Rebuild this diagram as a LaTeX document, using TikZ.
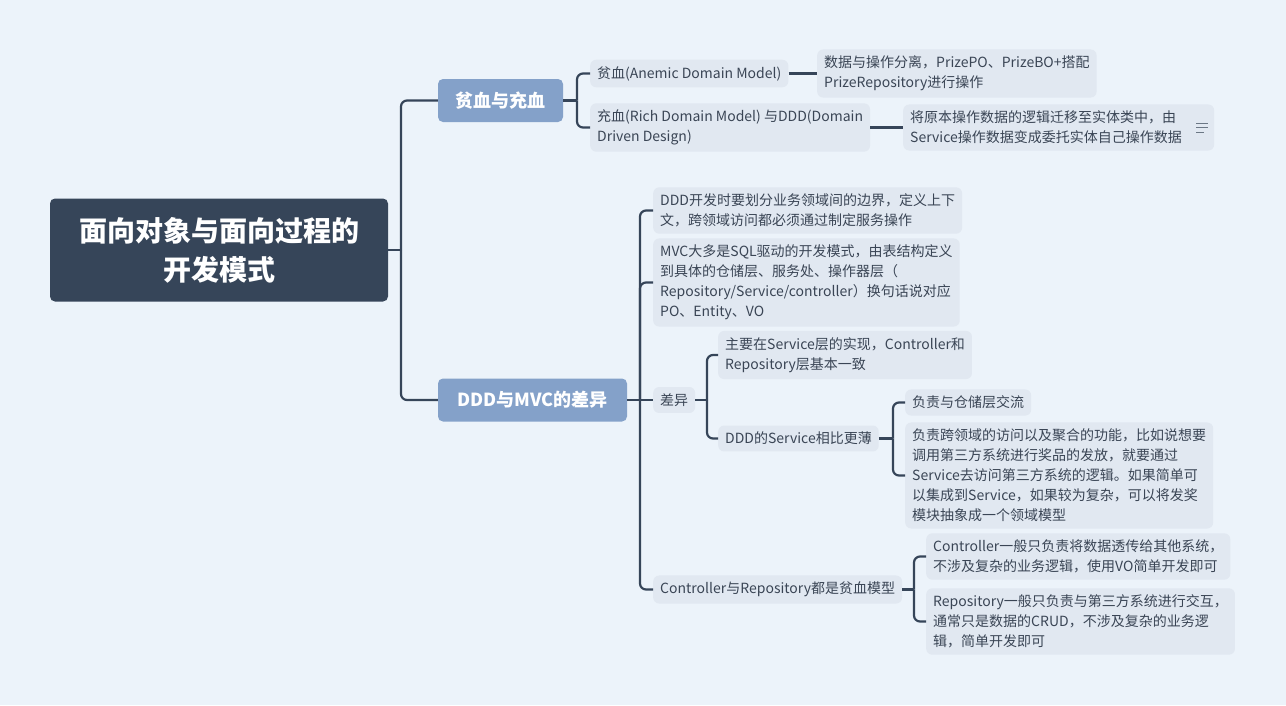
\documentclass[tikz,border=0pt]{standalone}
\usepackage{fontspec}
\setmainfont{Noto Sans CJK SC}
\definecolor{bgcol}{HTML}{ECF3FA}
\definecolor{rootcol}{HTML}{364559}
\definecolor{topcol}{HTML}{84A1C9}
\definecolor{leafcol}{HTML}{E1E8F1}
\definecolor{inkcol}{HTML}{3A4555}
\definecolor{iconcol}{HTML}{6B7785}

\begin{document}
\begin{tikzpicture}[x=1pt, y=-1pt,
  rootbox/.style={fill=rootcol, rounded corners=5pt, text=white, align=center,
    font=\fontsize{28}{39}\selectfont\bfseries, minimum width=338pt, minimum height=103pt},
  topicbox/.style={fill=topcol, rounded corners=5pt, text=white,
    font=\fontsize{18}{20}\selectfont\bfseries, minimum height=43pt},
  leaf/.style={fill=leafcol, rounded corners=6pt, text=inkcol, align=left, anchor=west,
    font=\fontsize{14}{20}\selectfont, inner xsep=7pt, inner ysep=6.5pt},
  link/.style={draw=rootcol, line width=2.2pt, rounded corners=6pt}]
 \fill [bgcol] (0,0) rectangle (1286,705);
 \useasboundingbox (0,0) rectangle (1286,705);

 % root and main topics
 \node [rootbox] (root) at (219,250) {面向对象与面向过程的\\开发模式};
 \node [topicbox, minimum width=125pt] (anemia) at (500.5,100.5) {贫血与充血};
 \node [topicbox, minimum width=189pt] (diff) at (532.5,400) {DDD与MVC的差异};

 % first branch
 \begin {scope}
  \node [leaf] (anemic) at (590,73.5) {贫血(Anemic Domain Model)};
  \node [leaf] (rich) at (590,127.5) {充血(Rich Domain Model) 与DDD(Domain\\Driven Design)};
  \node [leaf] (anemicnote) at (817,73.5) {数据与操作分离，PrizePO、PrizeBO+搭配\\PrizeRepository进行操作};
  \node [leaf, text width=297pt] (richnote) at (903,127.5) {将原本操作数据的逻辑迁移至实体类中，由\\Service操作数据变成委托实体自己操作数据};
  \draw [iconcol, line width=1pt] ([xshift=-18pt,yshift=4.5pt]richnote.east) -- ++(12,0)
    ([xshift=-18pt]richnote.east) -- ++(12,0)
    ([xshift=-18pt,yshift=-4.5pt]richnote.east) -- ++(8,0);
 \end {scope}

 % second branch
 \begin {scope}
  \node [leaf] (bounds) at (653,210.5) {DDD开发时要划分业务领域间的边界，定义上下\\文，跨领域访问都必须通过制定服务操作};
  \node [leaf] (mvc) at (653,282.5) {MVC大多是SQL驱动的开发模式，由表结构定义\\到具体的仓储层、服务处、操作器层（\\Repository/Service/controller）换句话说对应\\PO、Entity、VO};
  \node [leaf] (gap) at (653,400) {差异};
  \node [leaf] (svclayer) at (718,355) {主要在Service层的实现，Controller和\\Repository层基本一致};
  \node [leaf] (thin) at (718,438.5) {DDD的Service相比更薄};
  \node [leaf] (repo) at (905,402.5) {负责与仓储层交流};
  \node [leaf] (cross) at (905,475.5) {负责跨领域的访问以及聚合的功能，比如说想要\\调用第三方系统进行奖品的发放，就要通过\\Service去访问第三方系统的逻辑。如果简单可\\以集成到Service，如果较为复杂，可以将发奖\\模块抽象成一个领域模型};
  \node [leaf] (both) at (653,589.5) {Controller与Repository都是贫血模型};
  \node [leaf] (ctrl) at (926,556.5) {Controller一般只负责将数据透传给其他系统，\\不涉及复杂的业务逻辑，使用VO简单开发即可};
  \node [leaf] (store) at (926,621.5) {Repository一般只负责与第三方系统进行交互，\\通常只是数据的CRUD，不涉及复杂的业务逻\\辑，简单开发即可};
 \end {scope}

 % connectors
 \coordinate (j0) at (401,250);
 \coordinate (j1) at (577,100.5);
 \coordinate (j2) at (640,400);
 \coordinate (j3) at (707,400);
 \coordinate (j4) at (893,438.5);
 \coordinate (j5) at (914,589.5);
 \draw [link] (root.east) -- (j0);
 \draw [link] (j0) |- (anemia.west);
 \draw [link] (j0) |- (diff.west);
 \draw [link] (anemia.east) -- (j1);
 \draw [link] (j1) |- (anemic.west);
 \draw [link] (j1) |- (rich.west);
 \draw [link] (anemic.east) -- (anemicnote.west);
 \draw [link] (rich.east) -- (richnote.west);
 \draw [link] (diff.east) -- (j2);
 \draw [link] (j2) |- (bounds.west);
 \draw [link] (j2) |- (mvc.west);
 \draw [link] (j2) -- (gap.west);
 \draw [link] (j2) |- (both.west);
 \draw [link] (gap.east) -- (j3);
 \draw [link] (j3) |- (svclayer.west);
 \draw [link] (j3) |- (thin.west);
 \draw [link] (thin.east) -- (j4);
 \draw [link] (j4) |- (repo.west);
 \draw [link] (j4) |- (cross.west);
 \draw [link] (both.east) -- (j5);
 \draw [link] (j5) |- (ctrl.west);
 \draw [link] (j5) |- (store.west);
\end{tikzpicture}
\end{document}
